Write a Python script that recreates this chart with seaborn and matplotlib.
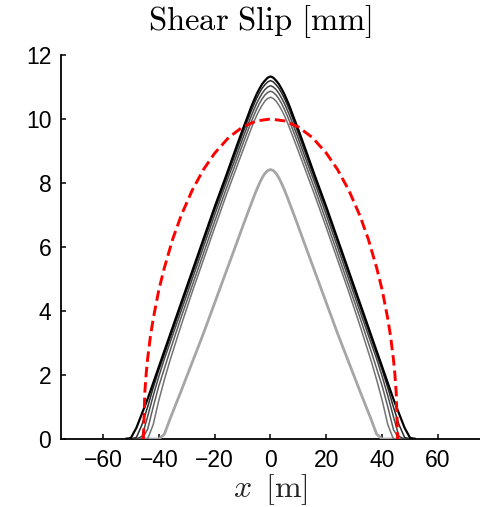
import numpy as np
import pandas as pd
import matplotlib
matplotlib.use("Agg")
import matplotlib.pyplot as plt
import seaborn as sns

# ---- data ----
x_m = [-52, -50, -48, -46, -44, -42, -40, -38, -36, -32, -28, -24, -20, -16, -12, -10, -8, -7, -6, -5, -4, -3, -2, -1, 0,
       1, 2, 3, 4, 5, 6, 7, 8, 10, 12, 16, 20, 24, 28, 32, 36, 38, 40, 42, 44, 46, 48, 50, 52]

slip_t1 = [0, 0, 0, 0, 0, 0, 0, 0.15, 0.62, 1.5, 2.4, 3.3, 4.25, 5.2, 6.15, 6.63, 7.1, 7.33, 7.56, 7.78, 7.98, 8.16, 8.3, 8.39, 8.42,
           8.39, 8.3, 8.16, 7.98, 7.78, 7.56, 7.33, 7.1, 6.63, 6.15, 5.2, 4.25, 3.3, 2.4, 1.5, 0.62, 0.15, 0, 0, 0, 0, 0, 0, 0]
slip_t2 = [0, 0, 0, 0, 0, 0.45, 1.2, 1.85, 2.45, 3.55, 4.6, 5.6, 6.6, 7.58, 8.52, 8.99, 9.45, 9.68, 9.9, 10.1, 10.28, 10.43, 10.56, 10.64, 10.68,
           10.64, 10.56, 10.43, 10.28, 10.1, 9.9, 9.68, 9.45, 8.99, 8.52, 7.58, 6.6, 5.6, 4.6, 3.55, 2.45, 1.85, 1.2, 0.45, 0, 0, 0, 0, 0]
slip_t3 = [0, 0, 0, 0, 0.3, 1.0, 1.65, 2.2, 2.75, 3.8, 4.8, 5.8, 6.8, 7.78, 8.72, 9.2, 9.66, 9.89, 10.1, 10.3, 10.48, 10.63, 10.75, 10.83, 10.87,
           10.83, 10.75, 10.63, 10.48, 10.3, 10.1, 9.89, 9.66, 9.2, 8.72, 7.78, 6.8, 5.8, 4.8, 3.8, 2.75, 2.2, 1.65, 1.0, 0.3, 0, 0, 0, 0]
slip_t4 = [0, 0, 0, 0.08, 0.7, 1.35, 1.95, 2.5, 3.0, 4.0, 5.0, 6.0, 7.0, 7.97, 8.9, 9.38, 9.84, 10.07, 10.28, 10.48, 10.65, 10.8, 10.92, 11.0, 11.04,
           11.0, 10.92, 10.8, 10.65, 10.48, 10.28, 10.07, 9.84, 9.38, 8.9, 7.97, 7.0, 6.0, 5.0, 4.0, 3.0, 2.5, 1.95, 1.35, 0.7, 0.08, 0, 0, 0]
slip_t5 = [0, 0, 0.05, 0.45, 1.0, 1.6, 2.15, 2.65, 3.15, 4.15, 5.15, 6.15, 7.15, 8.1, 9.06, 9.54, 10.0, 10.23, 10.44, 10.64, 10.81, 10.96, 11.07, 11.16, 11.2,
           11.16, 11.07, 10.96, 10.81, 10.64, 10.44, 10.23, 10.0, 9.54, 9.06, 8.1, 7.15, 6.15, 5.15, 4.15, 3.15, 2.65, 2.15, 1.6, 1.0, 0.45, 0.05, 0, 0]
slip_t6 = [0, 0.03, 0.35, 0.8, 1.25, 1.75, 2.25, 2.75, 3.25, 4.25, 5.25, 6.25, 7.25, 8.2, 9.18, 9.66, 10.12, 10.36, 10.57, 10.77, 10.94, 11.09, 11.2, 11.29, 11.33,
           11.29, 11.2, 11.09, 10.94, 10.77, 10.57, 10.36, 10.12, 9.66, 9.18, 8.2, 7.25, 6.25, 5.25, 4.25, 3.25, 2.75, 2.25, 1.75, 1.25, 0.8, 0.35, 0.03, 0]

curve_colors = ["#a6a6a6", "#737373", "#5e5e5e", "#474747", "#2b2b2b", "#000000"]
curve_widths = [2.0, 1.1, 1.1, 1.1, 1.1, 1.6]

x_ref = [-45.5, -45, -44.5, -44, -43, -42, -40, -38, -35, -32, -28, -24, -20, -15, -10, -5, 0,
         5, 10, 15, 20, 24, 28, 32, 35, 38, 40, 42, 43, 44, 44.5, 45, 45.5]
slip_ref = [0, 1.45, 2.05, 2.5, 3.2, 3.75, 4.65, 5.35, 6.25, 6.98, 7.78, 8.42, 8.93, 9.42, 9.75, 9.94, 10.0,
            9.94, 9.75, 9.42, 8.93, 8.42, 7.78, 6.98, 6.25, 5.35, 4.65, 3.75, 3.2, 2.5, 2.05, 1.45, 0]

x_ticks = [-60, -40, -20, 0, 20, 40, 60]
y_ticks = [0, 2, 4, 6, 8, 10, 12]

# ---- styling ----
sns.set_style("ticks")
plt.rcParams["font.family"] = ["Liberation Sans", "DejaVu Sans"]
plt.rcParams["mathtext.fontset"] = "cm"

fig = plt.figure(figsize=(4.81, 5.07), dpi=100)
ax = fig.add_axes([61 / 481, 68 / 507, 419 / 481, 384 / 507])

all_series = [slip_t1, slip_t2, slip_t3, slip_t4, slip_t5, slip_t6]
for ys, col, lw in zip(all_series, curve_colors, curve_widths):
    df = pd.DataFrame({"x": x_m, "slip": ys})
    sns.lineplot(data=df, x="x", y="slip", color=col, linewidth=lw, sort=False,
                 estimator=None, ax=ax, zorder=3)

df_ref = pd.DataFrame({"x": x_ref, "slip": slip_ref})
sns.lineplot(data=df_ref, x="x", y="slip", color="#ff0000", linewidth=2.1, sort=False,
             estimator=None, ax=ax, zorder=4)
ax.lines[-1].set_dashes((3.6, 1.7))
ax.lines[-1].set_dash_capstyle("butt")

ax.set_xlim(-75, 75)
ax.set_ylim(0, 12)
ax.set_xticks(x_ticks)
ax.set_yticks(y_ticks)
ax.set_xticklabels([f"{v}".replace("-", "\u2212") for v in x_ticks])
ax.set_yticklabels([str(v) for v in y_ticks])

for s in ["top", "right"]:
    ax.spines[s].set_visible(False)
for s in ["left", "bottom"]:
    ax.spines[s].set_linewidth(1.3)
    ax.spines[s].set_color("black")
ax.tick_params(direction="in", length=3.5, width=1.1, labelsize=16.5, pad=7, colors="black")

ax.set_xlabel(r"$x\ \,\mathrm{[m]}$", fontsize=23, labelpad=0)
ax.set_ylabel("")
ax.set_title(r"$\mathrm{Shear\ Slip\ [mm]}$", fontsize=23.5, pad=18, x=0.475, color="black")

fig.savefig("out.png", dpi=100)
